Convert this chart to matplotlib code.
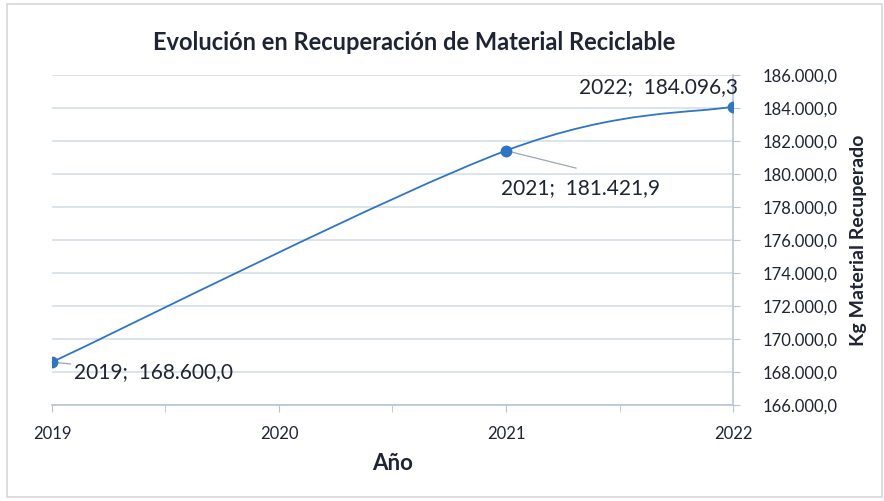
import matplotlib.pyplot as plt
import numpy as np
from matplotlib.path import Path
from matplotlib.patches import PathPatch, Rectangle
from matplotlib.ticker import FuncFormatter, MultipleLocator

plt.rcParams['font.family'] = ['Lato', 'DejaVu Sans']

years = [2019, 2021, 2022]
kg = [168600.0, 181421.9, 184096.3]
labels = ["2019;  168.600,0", "2021;  181.421,9", "2022;  184.096,3"]
y_ticks = np.arange(166000, 186001, 2000)
x_ticks = [2019, 2020, 2021, 2022]

line_col = "#2E75C6"
grid_col = "#D6DEE8"
axis_col = "#B8C4D4"
text_col = "#1E2433"

fig = plt.figure(figsize=(8.84, 5.01), dpi=100)
fig.patches.append(Rectangle((0.008, 0.008), 0.99, 0.985, transform=fig.transFigure,
                             fill=False, edgecolor="#D3D8DE", linewidth=1.2))
ax = fig.add_axes([0.0588, 0.1916, 0.7704, 0.6584])

# smoothed line (Excel style bezier through the points)
pts = np.column_stack([years, kg])
verts = [tuple(pts[0])]
codes = [Path.MOVETO]
n = len(pts)
for i in range(n - 1):
    p0 = pts[i - 1] if i > 0 else pts[i]
    p1 = pts[i]
    p2 = pts[i + 1]
    p3 = pts[i + 2] if i + 2 < n else pts[i + 1]
    c1 = p1 + (p2 - p0) / 6.0
    c2 = p2 - (p3 - p1) / 6.0
    verts += [tuple(c1), tuple(c2), tuple(p2)]
    codes += [Path.CURVE4] * 3
ax.add_patch(PathPatch(Path(verts, codes), facecolor="none", edgecolor=line_col, lw=1.3, zorder=3))
ax.plot(years, kg, "o", color=line_col, ms=7.5, zorder=4)

ax.set_xlim(2019, 2022)
ax.set_ylim(166000, 186000)
ax.set_yticks(y_ticks)
ax.set_xticks(x_ticks)
ax.xaxis.set_minor_locator(MultipleLocator(0.5))
ax.yaxis.tick_right()
ax.yaxis.set_label_position("right")
ax.yaxis.set_major_formatter(FuncFormatter(
    lambda v, p: f"{v:,.1f}".replace(",", "X").replace(".", ",").replace("X", ".")))
ax.grid(axis="y", color=grid_col, lw=1.2)
ax.set_axisbelow(True)

for s in ["top", "left"]:
    ax.spines[s].set_visible(False)
ax.spines["bottom"].set_color(axis_col)
ax.spines["right"].set_color(axis_col)
ax.spines["bottom"].set_linewidth(1.2)
ax.spines["right"].set_linewidth(1.2)
ax.tick_params(axis="y", colors=axis_col, labelcolor=text_col, labelsize=12, length=5, pad=16)
ax.tick_params(axis="x", which="both", colors=axis_col, labelcolor=text_col, labelsize=12,
               length=5, pad=10)
for t in ax.get_yticklabels():
    t.set_horizontalalignment("left")

ax.set_xlabel("Año", fontsize=16, fontweight="bold", color=text_col, labelpad=8)
ax.set_ylabel("Kg Material Recuperado", fontsize=14, fontweight="bold", color=text_col, labelpad=9)
fig.text(0.468, 0.916, "Evolución en Recuperación de Material Reciclable", ha="center", va="center",
         fontsize=17, fontweight="bold", color=text_col)

# data labels with leader lines
ax.annotate(labels[0], (years[0], kg[0]), xytext=(2019.095, 168000), fontsize=15, color=text_col,
            ha="left", va="center",
            arrowprops=dict(arrowstyle="-", color="#9AA6B4", lw=0.9, shrinkA=0, shrinkB=0))
ax.annotate(labels[1], (years[1], kg[1]), xytext=(2021.33, 179150), fontsize=15, color=text_col,
            ha="center", va="center",
            arrowprops=dict(arrowstyle="-", color="#9AA6B4", lw=0.9, shrinkA=0, shrinkB=0,
                            relpos=(0.47, 1.5)))
ax.annotate(labels[2], (years[2], kg[2]), xytext=(2021.67, 185270), fontsize=15, color=text_col,
            ha="center", va="center")

fig.savefig("out.png", dpi=100)
